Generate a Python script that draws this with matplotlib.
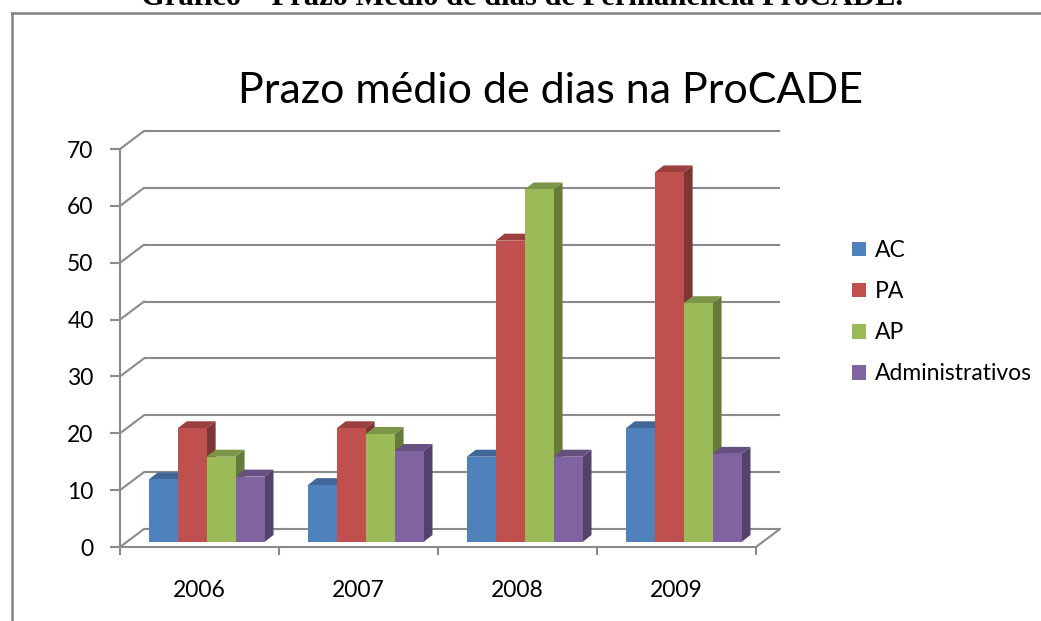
import numpy as np
import matplotlib.pyplot as plt
from matplotlib.patches import Polygon, Patch
from matplotlib.lines import Line2D
import matplotlib.colors as mcolors

# dados do grafico
anos = ['2006', '2007', '2008', '2009']
series = ['AC', 'PA', 'AP', 'Administrativos']
valores_ac = [11, 10, 15, 20]
valores_pa = [20, 20, 53, 65]
valores_ap = [15, 19, 62, 42]
valores_adm = [11.5, 16, 15, 15.5]
ticks_y = [0, 10, 20, 30, 40, 50, 60, 70]

cores = ['#4F81BD', '#C0504D', '#9BBB59', '#8064A2']
cinza = '#8A8A8A'
fonte = 'Lato'

W, H = 1041, 621
fig = plt.figure(figsize=(W / 100, H / 100), dpi=100)
ax = fig.add_axes([120 / W, 1 - 547 / H, 636 / W, 398 / H])
ax.set_xlim(0, len(anos))
ax.set_ylim(0, 70)


def px(dx, dy):
    # converte deslocamento em pixels para unidades de dados
    inv = ax.transData.inverted()
    x0, y0 = inv.transform((0, 0))
    x1, y1 = inv.transform((dx, dy))
    return x1 - x0, y1 - y0


def escurece(cor, f):
    r, g, b = mcolors.to_rgb(cor)
    return (r * f, g * f, b * f)


wx, wy = px(24, 18)     # profundidade da parede
fx, fy = px(6.5, 5)     # frente das barras
dx, dy = px(9, 7)       # profundidade das barras

# paredes: linhas de grade no fundo e diagonais na parede lateral
for v in ticks_y:
    ax.plot([wx, len(anos) + wx], [v + wy, v + wy], color=cinza, lw=1.5,
            clip_on=False, zorder=1, solid_capstyle='butt')
    ax.plot([0, wx], [v, v + wy], color=cinza, lw=1.5, clip_on=False, zorder=1)
ax.plot([len(anos), len(anos) + wx], [0, wy], color=cinza, lw=1.5,
        clip_on=False, zorder=1)

# barras 3D
dados = [valores_ac, valores_pa, valores_ap, valores_adm]
largura = 0.182
inicio = 0.14
z = 2
for g in range(len(anos)):
    for s, vals in enumerate(dados):
        xl = g + inicio + s * largura + fx
        xr = xl + largura
        topo = vals[g] + fy
        cor = cores[s]
        lado = Polygon([(xr, fy), (xr + dx, fy + dy), (xr + dx, topo + dy), (xr, topo)],
                       closed=True, facecolor=escurece(cor, 0.66), edgecolor='none',
                       zorder=z, clip_on=False)
        cima = Polygon([(xl, topo), (xr, topo), (xr + dx, topo + dy), (xl + dx, topo + dy)],
                       closed=True, facecolor=escurece(cor, 0.8), edgecolor='none',
                       zorder=z, clip_on=False)
        ax.add_patch(lado)
        ax.add_patch(cima)
        ax.bar(xl, vals[g], width=largura, bottom=fy, align='edge', color=cor,
               zorder=z + 0.5, clip_on=False)
        z += 1

# eixos
for lado in ['top', 'right']:
    ax.spines[lado].set_visible(False)
for lado in ['left', 'bottom']:
    ax.spines[lado].set_color(cinza)
    ax.spines[lado].set_linewidth(1.5)
    ax.spines[lado].set_zorder(0.5)

ax.set_yticks(ticks_y)
ax.set_yticklabels([str(t) for t in ticks_y], fontfamily=fonte, fontsize=16.5)
ax.tick_params(axis='y', length=7, width=1.5, color=cinza, pad=12)

ax.set_xticks(np.arange(len(anos) + 1))
ax.set_xticklabels([])
ax.tick_params(axis='x', which='major', length=6, width=1.5, color=cinza)
ax.set_xticks(np.arange(len(anos)) + 0.5, minor=True)
ax.set_xticklabels(anos, minor=True, fontfamily=fonte, fontsize=16.5)
ax.tick_params(axis='x', which='minor', length=0, pad=24)
ax.patch.set_visible(False)

# titulo do grafico
fig.text(550 / W, 1 - 103 / H, 'Prazo médio de dias na ProCADE', ha='center',
         va='baseline', fontfamily=fonte, fontsize=31)

# legenda
handles = [Patch(facecolor=c, edgecolor='none') for c in cores]
fig.legend(handles, series, loc='upper left', bbox_to_anchor=(852 / W, 1 - 240 / H),
           frameon=False, prop={'family': fonte, 'size': 16.5}, handlelength=0.6,
           handleheight=0.6, handletextpad=0.4, labelspacing=0.88,
           borderpad=0, borderaxespad=0)

# moldura e cabecalho do documento
fig.add_artist(Line2D([12 / W, 1], [1 - 12.5 / H] * 2, transform=fig.transFigure,
                      color='#808080', lw=1.8))
fig.add_artist(Line2D([12 / W] * 2, [0, 1 - 12.5 / H], transform=fig.transFigure,
                      color='#808080', lw=1.8))
fig.text(522 / W, 1 - 5 / H, 'Gráfico – Prazo Médio de dias de Permanência ProCADE.',
         ha='center', va='baseline', fontfamily='Liberation Serif', fontweight='bold',
         fontsize=22)

fig.savefig('out.png', dpi=100)
